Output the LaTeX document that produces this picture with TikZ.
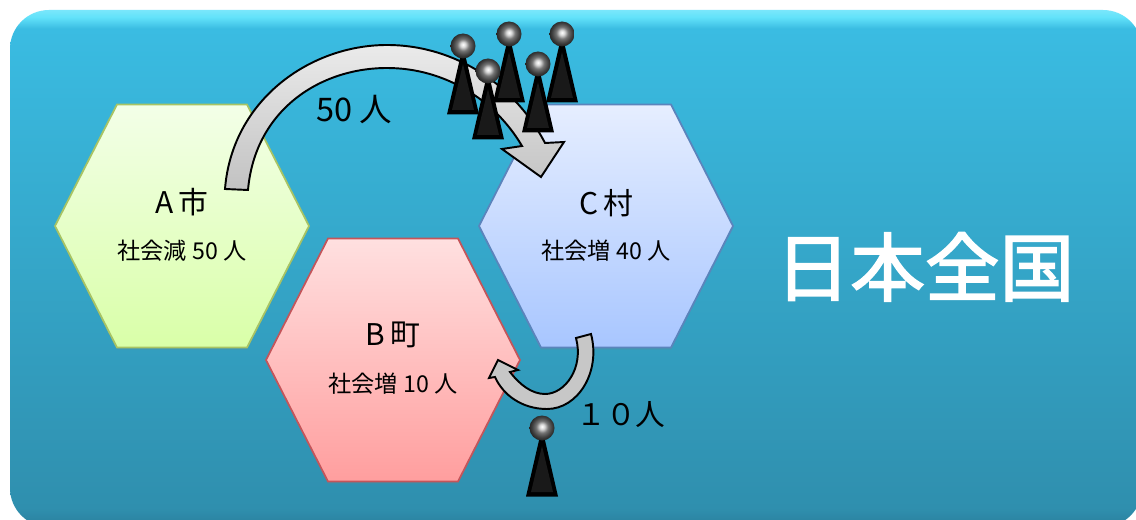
\documentclass[tikz,border=0pt]{standalone}
\usepackage{fontspec}
\usepackage{xcolor}
\setmainfont{Noto Sans CJK JP}
\newfontfamily\titlefont[FakeBold=2.2]{Noto Sans CJK JP}
\usetikzlibrary{shadows}

\definecolor{panelrim}{HTML}{62E2FA}
\definecolor{paneltop}{HTML}{3ABCE2}
\definecolor{panelbot}{HTML}{2F8FAE}
\definecolor{paneledge}{HTML}{2A7F9C}

\pgfdeclareverticalshading{panelshade}{100bp}{color(0bp)=(paneledge); color(25bp)=(paneledge); color(26.8bp)=(panelbot); color(73.2bp)=(paneltop); color(74.3bp)=(panelrim); color(75bp)=(panelrim!85!white); color(100bp)=(panelrim!85!white)}
\pgfdeclareradialshading{headball}{\pgfpoint{0bp}{3bp}}{color(0bp)=(white); color(5bp)=(black!15); color(12bp)=(black!55); color(20bp)=(black!75); color(28bp)=(black!90); color(50bp)=(black!90)}

\tikzset{
    hexcell/.style={line width=1pt, drop shadow={opacity=0.22, shadow xshift=0pt, shadow yshift=-1.2pt}},
    flow/.style={draw=black, line width=1.1pt, line join=miter},
    placename/.style={font=\fontsize{17}{20}\selectfont},
    balance/.style={font=\fontsize{13.2}{16}\selectfont},
    flowlabel/.style={font=\fontsize{18.5}{22}\selectfont}
}

\begin{document}
\begin{tikzpicture}[x=0.02cm, y=-0.02cm]
    \useasboundingbox (0,0) rectangle (1136,520);
    \clip (0,0) rectangle (1136,520);
    \fill[white] (0,0) rectangle (1136,520);
    \shade[shading=panelshade, rounded corners=0.78cm] (10,10) rectangle (1142,527);

    % hexagons
    \foreach \cx/\cy/\ctop/\cbot/\cline in {
        182/226/F3FFE8/D9FFA8/A8C464,
        393/360/FFE0E0/FF9E9E/C4555A,
        606/226/E6EEFF/A8C6FF/5B84BC} {
        \definecolor{hextop}{HTML}{\ctop}
        \definecolor{hexbot}{HTML}{\cbot}
        \definecolor{hexline}{HTML}{\cline}
        \shade[hexcell, top color=hextop, bottom color=hexbot, draw=hexline]
            (\cx-127,\cy) -- (\cx-65,\cy-121.5) -- (\cx+65,\cy-121.5)
            -- (\cx+127,\cy) -- (\cx+65,\cy+121.5) -- (\cx-65,\cy+121.5) -- cycle;
    }

    \node[placename] (cityA) at (182,202) {A\,市};
    \node[balance] (lossA) at (182,251) {社会減 50 人};
    \node[placename] (townB) at (393,335) {B\,町};
    \node[balance] (gainB) at (393,384) {社会増 10 人};
    \node[placename] (villageC) at (606,203) {C\,村};
    \node[balance] (gainC) at (606,251) {社会増 40 人};

    % curved arrows
    \shade[flow, top color=black!8, bottom color=black!24]
        (225,189) .. controls (232,100) and (310,45) .. (387,45)
        .. controls (455,45) and (515,85) .. (545,143)
        -- (564,142) -- (541,177) -- (502,149) -- (522,146)
        .. controls (495,100) and (445,68) .. (387,68)
        .. controls (320,68) and (255,110) .. (248,190) -- cycle;
    \fill[flow, fill=black!22]
        (576,338) -- (591,334) .. controls (601,372) and (578,409) .. (547,409)
        .. controls (522,409) and (503,395) .. (495,377)
        -- (489,378) -- (498,360) -- (518,370) -- (510,372)
        .. controls (520,385) and (532,394) .. (545,394)
        .. controls (565,394) and (584,368) .. (576,338) -- cycle;

    \node[flowlabel] (moveAC) at (354,110) {50 人};
    \node[font=\fontsize{16.9}{20}\selectfont] (moveCB) at (621,415) {１０人};

    % people
    \foreach \x/\y in {463/46,509/34,562/34,488/71,538/64,542/428} {
        \fill[black] (\x-16,\y+68.5) -- (\x-2,\y+8) -- (\x+2,\y+8) -- (\x+16,\y+68.5) -- cycle;
        \fill[black!90] (\x-11,\y+64) -- (\x,\y+18) -- (\x+11,\y+64) -- cycle;
        \shade[shading=headball] (\x,\y) circle (12.5);
    }

    \node[text=white, font=\fontsize{42.5}{50}\titlefont] (nation) at (925,267) {日本全国};
\end{tikzpicture}
\end{document}
